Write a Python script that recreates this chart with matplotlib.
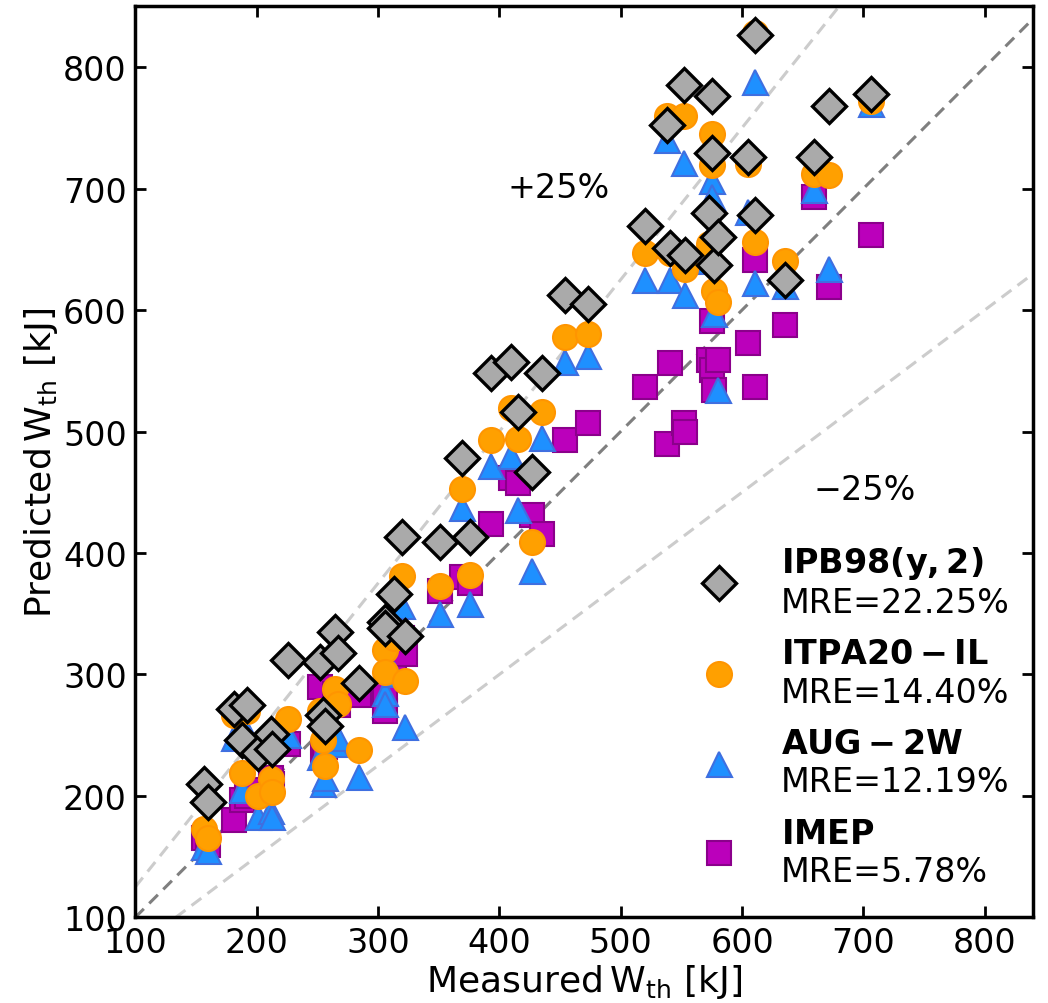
import matplotlib
matplotlib.use("Agg")
import matplotlib.pyplot as plt
from matplotlib.lines import Line2D

# Measured stored energy [kJ] for each discharge
measured = [157, 160, 181, 188, 192, 201, 212, 213, 226, 252, 255, 256, 265, 267, 284,
            306, 306, 313, 320, 322, 351, 369, 376, 393, 410, 415, 427, 435, 454, 473,
            520, 538, 541, 552, 553, 573, 575, 575, 577, 580, 605, 611, 611, 635, 659,
            672, 706]
# Predicted stored energy [kJ]
ipb98 = [210, 195, 272, 246, 275, 235, 251, 239, 312, 310, 267, 258, 335, 318, 293,
         343, 338, 366, 413, 332, 409, 478, 413, 548, 557, 516, 467, 548, 612, 605,
         669, 752, 651, 785, 645, 680, 776, 729, 637, 660, 726, 826, 678, 625, 726,
         768, 778]
itpa20 = [173, 165, 267, 219, 270, 200, 214, 203, 263, 270, 246, 225, 288, 276, 238,
          320, 302, 330, 381, 295, 373, 453, 382, 493, 519, 494, 409, 516, 578, 580,
          647, 760, 647, 760, 634, 654, 745, 719, 616, 607, 720, 828, 656, 640, 712,
          711, 772]
aug2w = [158, 155, 248, 205, 252, 183, 188, 183, 250, 232, 210, 215, 243, 248, 216,
         285, 276, 300, 356, 257, 350, 437, 358, 472, 480, 435, 385, 495, 557, 562,
         625, 740, 625, 721, 612, 640, 706, 693, 597, 534, 681, 788, 622, 620, 699,
         634, 770]
imep = [165, 160, 180, 197, 200, 205, 215, 210, 243, 290, 235, 240, 284, 275, 283,
        270, 285, 305, 330, 317, 369, 380, 375, 424, 462, 458, 431, 416, 493, 507,
        537, 490, 556, 507, 500, 559, 591, 551, 534, 559, 573, 641, 537, 588, 693,
        619, 662]

model_names = [r"$\mathbf{IPB98(y,2)}$", r"$\mathbf{ITPA20-IL}$",
               r"$\mathbf{AUG-2W}$", r"$\mathbf{IMEP}$"]
mre_values = ["22.25%", "14.40%", "12.19%", "5.78%"]

xlims = [100, 840]
ylims = [100, 850]
line_range = [100, 850]

fig = plt.figure(figsize=(10.48, 10.04), dpi=100)
ax = fig.add_axes([0.129, 0.0852, 0.857, 0.9075])

# reference lines
ax.plot(line_range, line_range, ls=(0, (4, 2.5)), color="#7f7f7f", lw=2.2, zorder=1)
ax.plot([line_range[0], line_range[1] / 1.25], [line_range[0] * 1.25, line_range[1]],
        ls=(0, (4, 2.5)), color="#cccccc", lw=2.2, zorder=1)
ax.plot([line_range[0] / 0.75, line_range[1]], [line_range[0], line_range[1] * 0.75],
        ls=(0, (4, 2.5)), color="#cccccc", lw=2.2, zorder=1)

styles = [
    dict(marker="D", ms=17, mfc="#aaaaaa", mec="black", mew=2.4),
    dict(marker="o", ms=18, mfc="#ffa000", mec="#ff9500", mew=1.5),
    dict(marker="^", ms=18, mfc="#1e90ff", mec="#3f6fe0", mew=1.5),
    dict(marker="s", ms=17, mfc="#bb00bb", mec="#8b008b", mew=1.5),
]
series = [ipb98, itpa20, aug2w, imep]
zorders = [6, 5, 4, 3]
for vals, st, z in zip(series, styles, zorders):
    ax.plot(measured, vals, ls="none", zorder=z, **st)

ax.text(449, 701, "+25%", fontsize=24, ha="center", va="center")
ax.text(701, 452, "\u221225%", fontsize=24, ha="center", va="center")

handles = [Line2D([], [], ls="none", **st) for st in styles]
labels = [n + "\n" + "MRE=" + m for n, m in zip(model_names, mre_values)]
ax.legend(handles, labels, loc="lower right", bbox_to_anchor=(1.0, 0.007),
          frameon=False, fontsize=24, handletextpad=0.85, labelspacing=0.55,
          borderaxespad=0.3)

ax.set_xlim(xlims)
ax.set_ylim(ylims)
ticks = [100, 200, 300, 400, 500, 600, 700, 800]
ax.set_xticks(ticks)
ax.set_yticks(ticks)
ax.tick_params(direction="in", length=8, width=2, labelsize=24, top=True, right=True,
               pad=6)
for sp in ax.spines.values():
    sp.set_linewidth(2.5)

ax.set_xlabel(r"Measured$\,\mathrm{W_{th}}$ [kJ]", fontsize=26, labelpad=2)
ax.set_ylabel(r"Predicted$\,\mathrm{W_{th}}$ [kJ]", fontsize=26, labelpad=2)

fig.savefig("out.png", dpi=100)
